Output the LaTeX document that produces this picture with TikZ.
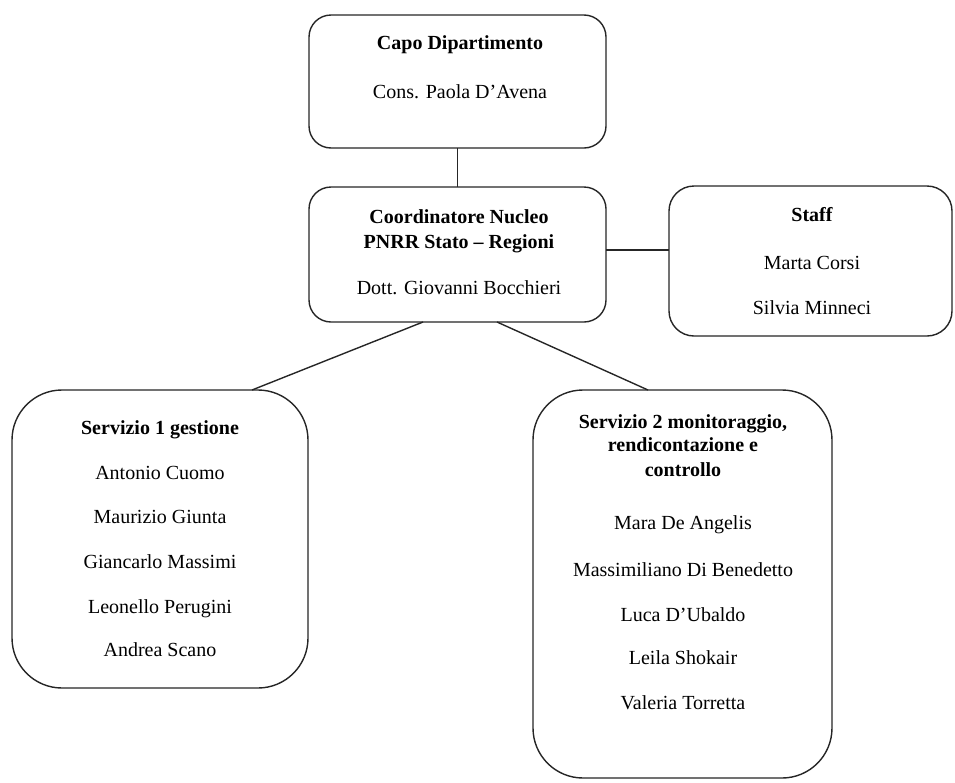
\documentclass[tikz,border=0pt]{standalone}
\usepackage{fontspec}
\setmainfont{Liberation Serif}
\begin{document}
\begin{tikzpicture}[x=1pt,y=-1pt,
  box/.style={draw=black!85, line width=1.4pt, inner sep=0pt, outer sep=0pt, fill=white},
  link/.style={draw=black!85, line width=1.4pt},
  txt/.style={inner sep=0pt, anchor=base, font=\fontsize{20}{24}\selectfont},
  head/.style={txt, font=\fontsize{20}{24}\selectfont\bfseries}]
  \useasboundingbox (0,0) rectangle (955,782);

  % organisational units
  \node[box, minimum width=297pt, minimum height=133pt, rounded corners=22pt] (capo)  at (457.5,81.5) {};
  \node[box, minimum width=297pt, minimum height=135pt, rounded corners=22pt] (coord) at (457.5,254.5) {};
  \node[box, minimum width=283pt, minimum height=150pt, rounded corners=25pt] (staff) at (810.5,261) {};
  \node[box, minimum width=296pt, minimum height=298pt, rounded corners=50pt] (serv1) at (160,539) {};
  \node[box, minimum width=299pt, minimum height=388pt, rounded corners=50pt] (serv2) at (682.5,584) {};

  % reporting lines
  \draw[link] (capo.south) -- (coord.north);
  \draw[link] ([yshift=4.5pt]coord.east) -- ([yshift=11pt]staff.west);
  \draw[link] ([xshift=-34.5pt]coord.south) -- ([xshift=92pt]serv1.north);
  \draw[link] ([xshift=39.5pt]coord.south) -- ([xshift=-34.5pt]serv2.north);

  % Capo Dipartimento
  \node[head] (capoT) at (460,49) {Capo Dipartimento};
  \node[txt]  (capoN) at (460,98) {Cons. Paola D’Avena};

  % Coordinatore
  \node[head] (coordT1) at (459,223) {Coordinatore Nucleo};
  \node[head] (coordT2) at (459,248) {PNRR Stato – Regioni};
  \node[txt]  (coordN)  at (459,294) {Dott. Giovanni Bocchieri};

  % Staff
  \node[head] (staffT)  at (812,221) {Staff};
  \node[txt]  (staffN1) at (812,269) {Marta Corsi};
  \node[txt]  (staffN2) at (812,314) {Silvia Minneci};

  % Servizio 1
  \node[head] (s1T)  at (160,434) {Servizio 1 gestione};
  \node[txt]  (s1N1) at (160,479) {Antonio Cuomo};
  \node[txt]  (s1N2) at (160,523) {Maurizio Giunta};
  \node[txt]  (s1N3) at (160,568) {Giancarlo Massimi};
  \node[txt]  (s1N4) at (160,613) {Leonello Perugini};
  \node[txt]  (s1N5) at (160,656) {Andrea Scano};

  % Servizio 2
  \node[head] (s2T1) at (683,428) {Servizio 2 monitoraggio,};
  \node[head] (s2T2) at (683,451) {rendicontazione e};
  \node[head] (s2T3) at (683,476) {controllo};
  \node[txt]  (s2N1) at (683,529) {Mara De Angelis};
  \node[txt]  (s2N2) at (683,576) {Massimiliano Di Benedetto};
  \node[txt]  (s2N3) at (683,621) {Luca D’Ubaldo};
  \node[txt]  (s2N4) at (683,664) {Leila Shokair};
  \node[txt]  (s2N5) at (683,709) {Valeria Torretta};
\end{tikzpicture}
\end{document}
